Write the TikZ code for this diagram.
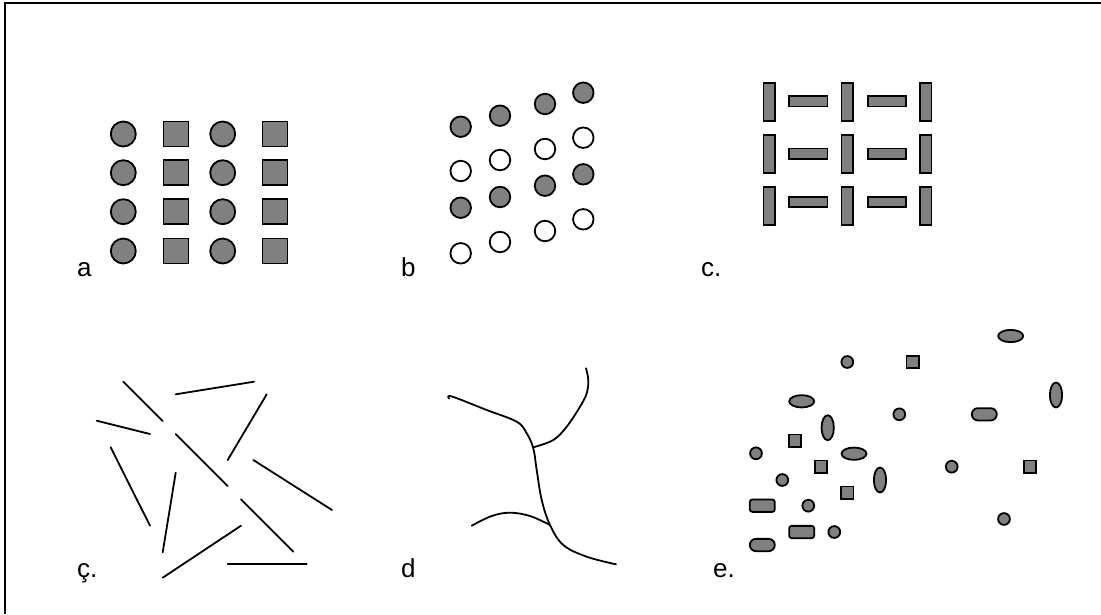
\documentclass[tikz,border=0pt]{standalone}
\usepackage{fontspec}
\setmainfont{Liberation Sans}
\usetikzlibrary{shapes.geometric}
\definecolor{shade}{HTML}{808080}
\tikzset{
  shp/.style={draw=black, line width=1.8pt, fill=shade, inner sep=0pt, outer sep=0pt},
  acirc/.style={shp, circle, minimum size=25pt},
  asq/.style={shp, rectangle, minimum size=25pt},
  bg/.style={shp, circle, minimum size=20.5pt},
  bw/.style={shp, circle, fill=white, minimum size=20.5pt},
  vbar/.style={shp, rectangle, minimum width=11.5pt, minimum height=38.2pt},
  hbar/.style={shp, rectangle, minimum width=38.2pt, minimum height=10.6pt},
  ecirc/.style={shp, circle, minimum size=11.8pt},
  esq/.style={shp, rectangle, minimum size=12.3pt},
  hell/.style={shp, ellipse, minimum width=25pt, minimum height=12.3pt},
  vell/.style={shp, ellipse, minimum width=12.3pt, minimum height=25pt},
  rrect/.style={shp, rectangle, rounded corners=2.5pt, minimum width=25pt, minimum height=12.3pt},
  stad/.style={shp, rectangle, rounded corners=6.1pt, minimum width=25pt, minimum height=12.3pt},
  lbl/.style={anchor=base west, inner sep=0pt, font=\fontsize{26}{30}\selectfont},
  stroke/.style={line width=1.8pt, line cap=round, line join=round},
}
\begin{document}
\begin{tikzpicture}[x=1pt,y=-1pt]
\useasboundingbox (0,0) rectangle (1101,614);
\draw[line width=1.6pt] (5,614) -- (5,3) -- (1101,3);

% panel a
\foreach \r/\y in {1/134,2/172.7,3/211.7,4/251}{
  \node[acirc] (a1\r) at (123.3,\y) {};
  \node[asq]   (a2\r) at (176,\y) {};
  \node[acirc] (a3\r) at (222.7,\y) {};
  \node[asq]   (a4\r) at (275,\y) {};
}
\node[lbl] (la) at (77,276.7) {a};

% panel b
\foreach \c/\x/\ya/\yb/\yc/\yd in {1/460.7/126.7/171/207.7/253.3, 2/500/115.7/160/197/242, 3/545/104/149/185.7/231, 4/583.3/92.7/137.7/174.3/219.3}{
  \node[bg] (b\c1) at (\x,\ya) {};
  \node[bw] (b\c2) at (\x,\yb) {};
  \node[bg] (b\c3) at (\x,\yc) {};
  \node[bw] (b\c4) at (\x,\yd) {};
}
\node[lbl] (lb) at (401,276.7) {b};

% panel c
\foreach \r/\y/\yh in {1/101.7/101.2, 2/153.7/153.7, 3/205.7/202}{
  \node[vbar] (cv1\r) at (769.3,\y) {};
  \node[hbar] (ch1\r) at (808.3,\yh) {};
  \node[vbar] (cv2\r) at (847.3,\y) {};
  \node[hbar] (ch2\r) at (886.7,\yh) {};
  \node[vbar] (cv3\r) at (925.7,\y) {};
}
\node[lbl] (lc) at (701,276.7) {c.};

% panel c-cedilla: scattered lines
\draw[stroke] (123.3,381.7) -- (162.7,421);
\draw[stroke] (175.7,394.3) -- (254,381.7);
\draw[stroke] (266.7,394.3) -- (227.7,460);
\draw[stroke] (96.7,420.7) -- (150,434);
\draw[stroke] (175.7,434) -- (227.7,486);
\draw[stroke] (110.7,447.3) -- (150,525.7);
\draw[stroke] (175.7,472.7) -- (162.7,552.3);
\draw[stroke] (253.3,460) -- (332,510);
\draw[stroke] (241,499.3) -- (293.3,551.7);
\draw[stroke] (241,525.7) -- (162.7,577.7);
\draw[stroke] (227.7,564.3) -- (306.7,564.3);
\node[lbl] (lcc) at (77,577) {ç.};

% panel d: curves
\draw[stroke] plot[smooth, tension=0.6] coordinates {(449,398.5) (452,396.5) (486.7,410) (516.7,421.7) (526.7,433.3) (533.3,448.3) (536.7,470) (541.7,500) (550,525) (563.3,545) (586.7,556.7) (616,564.3)};
\draw[stroke] plot[smooth, tension=0.6] coordinates {(533.3,447.3) (553.3,440) (566.7,426.7) (580,406.7) (586.7,393.3) (588.3,380) (586,368.3)};
\draw[stroke] plot[smooth, tension=0.6] coordinates {(471.7,525.7) (491.7,516) (510,512.7) (530,516) (550,525)};
\node[lbl] (ld) at (401,577) {d};

% panel e
\node[ecirc] (e1) at (847.3,362) {};
\node[ecirc] (e2) at (899.3,414.3) {};
\node[ecirc] (e3) at (756,453.3) {};
\node[ecirc] (e4) at (782.3,480) {};
\node[ecirc] (e5) at (808.3,505.7) {};
\node[ecirc] (e6) at (834.3,532) {};
\node[ecirc] (e7) at (951.7,466.7) {};
\node[ecirc] (e8) at (1004,519) {};
\node[esq] (s1) at (912.7,362) {};
\node[esq] (s2) at (795,440.7) {};
\node[esq] (s3) at (821,466.7) {};
\node[esq] (s4) at (847.3,492.7) {};
\node[esq] (s5) at (1030,466.7) {};
\node[hell] (h1) at (1010.7,336) {};
\node[hell] (h2) at (801.7,401.3) {};
\node[hell] (h3) at (854,453.7) {};
\node[vell] (v1) at (827.7,427.7) {};
\node[vell] (v2) at (880,480) {};
\node[vell] (v3) at (1056,395) {};
\node[rrect] (r1) at (762.3,505.7) {};
\node[rrect] (r2) at (801.7,532) {};
\node[stad] (t1) at (762.3,545) {};
\node[stad] (t2) at (984.3,414.3) {};
\node[lbl] (le) at (713,577) {e.};
\end{tikzpicture}
\end{document}
